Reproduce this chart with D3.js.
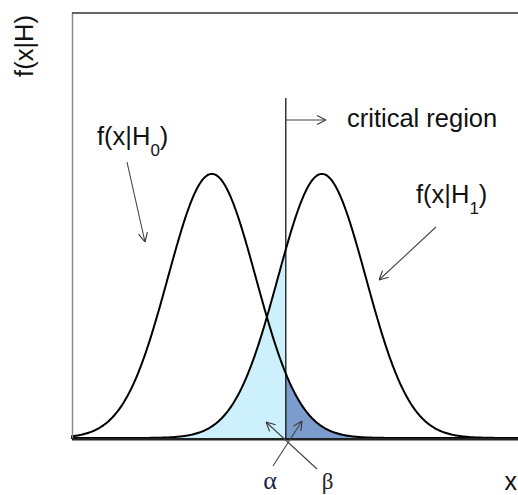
<!DOCTYPE html>
<html>
<head>
<meta charset="utf-8">
<script src="https://cdn.jsdelivr.net/npm/d3@7"></script>
<style>
  html, body { margin: 0; padding: 0; background: #fff; }
  svg { display: block; }
  text { font-family: "Liberation Sans", Arial, sans-serif; fill: #111; }
  text.greek { font-family: "Liberation Serif", "DejaVu Serif", "Times New Roman", serif; }
</style>
</head>
<body>
<script>
// Hypotheses: two unit-variance normal densities and the decision cut
const hypotheses = ["H0", "H1"];
const means = [0, 2.5];
const sds = [1, 1];
const criticalX = 1.68;
const xDomain = [-3.2, 7.0];
const yMax = 0.642;

const W = 518, H = 495;
const svg = d3.select("body").append("svg").attr("width", W).attr("height", H);

const x = d3.scaleLinear().domain(xDomain).range([71, 520]);
const y = d3.scaleLinear().domain([0, yMax]).range([438, 13]);

const pdf = (m, s) => v => Math.exp(-0.5 * ((v - m) / s) ** 2) / (s * Math.sqrt(2 * Math.PI));
const f0 = pdf(means[0], sds[0]);
const f1 = pdf(means[1], sds[1]);

const grid = d3.range(xDomain[0], xDomain[1] + 1e-9, 0.02);

// shaded tails
const area = d3.area().x(d => x(d[0])).y0(y(0)).y1(d => y(d[1]));
const leftPts = grid.filter(v => v <= criticalX).map(v => [v, f1(v)]);
leftPts.push([criticalX, f1(criticalX)]);
const rightPts = [[criticalX, f0(criticalX)]].concat(grid.filter(v => v >= criticalX).map(v => [v, f0(v)]));
svg.append("path").attr("d", area(leftPts)).attr("fill", "#ccf0fc");
svg.append("path").attr("d", area(rightPts)).attr("fill", "#7b9ccd");

// density curves
const line = d3.line().x(d => x(d[0])).y(d => y(d[1]));
[f0, f1].forEach(f => {
  svg.append("path")
    .attr("d", line(grid.map(v => [v, f(v)])))
    .attr("fill", "none").attr("stroke", "#000").attr("stroke-width", 2);
});

// frame
svg.append("line").attr("x1", 72.5).attr("x2", 72.5).attr("y1", 13).attr("y2", 439)
  .attr("stroke", "#8a8a8a").attr("stroke-width", 1.5);
svg.append("line").attr("x1", 72).attr("x2", W).attr("y1", 13).attr("y2", 13)
  .attr("stroke", "#333").attr("stroke-width", 1.5);
svg.append("line").attr("x1", 72).attr("x2", W).attr("y1", 439.3).attr("y2", 439.3)
  .attr("stroke", "#222").attr("stroke-width", 2.5);

// critical cut
svg.append("line").attr("x1", x(criticalX)).attr("x2", x(criticalX)).attr("y1", 98).attr("y2", 439)
  .attr("stroke", "#000").attr("stroke-width", 1.2);

// open arrowheads
svg.append("defs").append("marker")
  .attr("id", "arr").attr("viewBox", "0 0 10 10").attr("refX", 10).attr("refY", 5)
  .attr("markerWidth", 10).attr("markerHeight", 10).attr("markerUnits", "userSpaceOnUse")
  .attr("orient", "auto")
  .append("path").attr("d", "M1,0.5 L10,5 L1,9.5").attr("fill", "none")
  .attr("stroke", "#333").attr("stroke-width", 1.1);

const arrow = (x1, y1, x2, y2) => svg.append("line")
  .attr("x1", x1).attr("y1", y1).attr("x2", x2).attr("y2", y2)
  .attr("stroke", "#444").attr("stroke-width", 1.1).attr("marker-end", "url(#arr)");

arrow(x(criticalX), 120, 326, 120);
arrow(127, 162, 145, 242);
arrow(436, 227, 379, 280);
arrow(317, 469, 266, 422);
arrow(273, 466, 302, 421);

// labels
svg.append("text").attr("x", 347).attr("y", 127).attr("font-size", 25.5).text("critical region");

svg.append("text").attr("transform", "translate(33,46) rotate(-90)")
  .attr("text-anchor", "middle").attr("font-size", 25.5).text("f(x|H)");

function hypLabel(xp, yp, sub) {
  const t = svg.append("text").attr("x", xp).attr("y", yp).attr("font-size", 25.5);
  t.append("tspan").text("f(x|H");
  t.append("tspan").attr("font-size", 17).attr("dy", 11).text(sub);
  t.append("tspan").attr("dy", -11).text(")");
}
hypLabel(97, 145, "0");
hypLabel(416, 203, "1");

svg.append("text").attr("class", "greek").attr("x", 270).attr("y", 489)
  .attr("text-anchor", "middle").attr("font-size", 26)
  .style("fill", "#1b2550").text("α");
svg.append("text").attr("class", "greek").attr("x", 327.5).attr("y", 489)
  .attr("text-anchor", "middle").attr("font-size", 23)
  .style("fill", "#222").text("β");

svg.append("text").attr("x", 504.5).attr("y", 490).attr("font-size", 25).text("x");
</script>
</body>
</html>
